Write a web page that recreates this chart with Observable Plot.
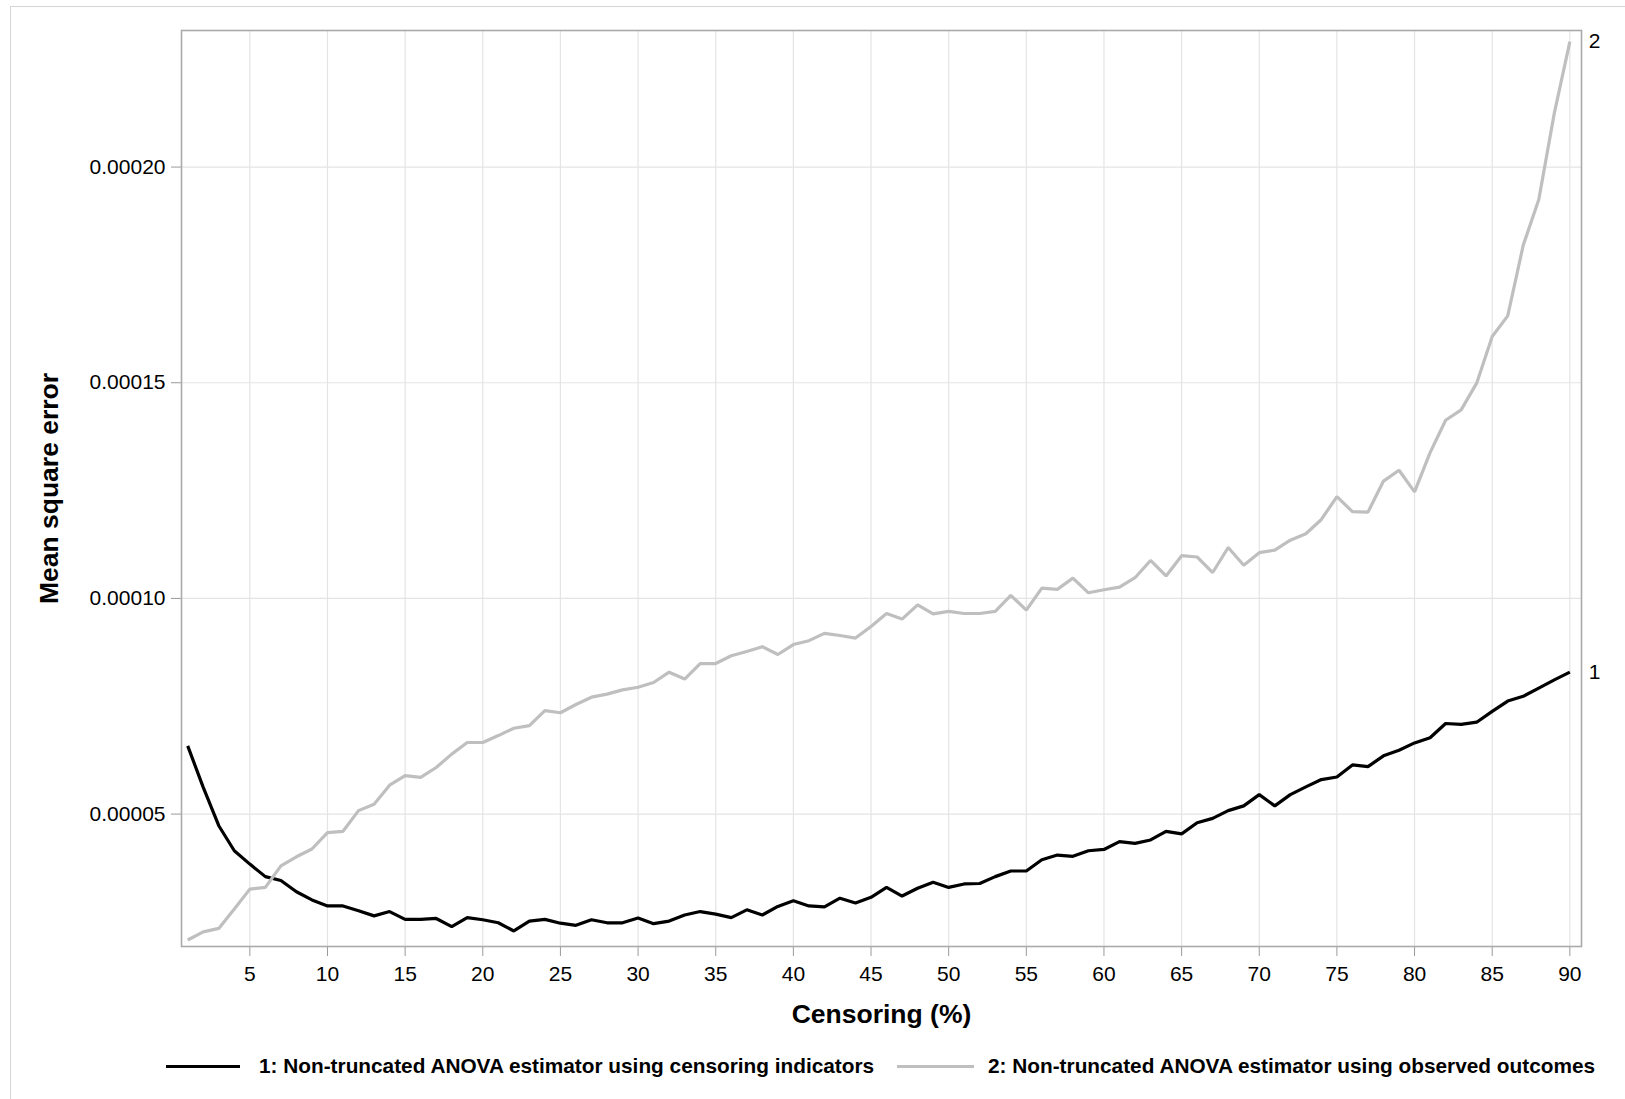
<!DOCTYPE html>
<html>
<head>
<meta charset="utf-8">
<script src="https://cdn.jsdelivr.net/npm/d3@7"></script>
<script src="https://cdn.jsdelivr.net/npm/@observablehq/plot@0.6"></script>
<style>
  html, body { margin: 0; padding: 0; background: #fff; overflow: hidden; }
  body { width: 1625px; height: 1099px; position: relative; font-family: "Liberation Sans", Arial, sans-serif; }
  #border { position: absolute; left: 10px; top: 6px; width: 1700px; height: 1200px; border: 1px solid #d4d4d4; pointer-events: none; }
  #chart { position: absolute; left: 0; top: 0; }
  #chart svg { display: block; }
  #legend { position: absolute; left: 0; top: 1035px; width: 1625px; height: 64px; font-size: 20.8px; font-weight: bold; color: #000; }
  .sw { position: absolute; top: 30px; height: 3px; }
  .lt { position: absolute; top: 19px; white-space: nowrap; line-height: 24px; }
</style>
</head>
<body>
<div id="chart"></div>
<div id="legend"></div>
<div id="border"></div>
<script>
// Censoring percentage (x categories)
const censoring = d3.range(1, 91);

// Series 1: Non-truncated ANOVA estimator using censoring indicators
const mse1 = [
  6.58e-5, 5.62e-5, 4.73e-5, 4.15e-5, 3.84e-5, 3.55e-5, 3.46e-5, 3.20e-5, 3.01e-5, 2.87e-5,
  2.87e-5, 2.76e-5, 2.64e-5, 2.74e-5, 2.56e-5, 2.56e-5, 2.58e-5, 2.39e-5, 2.60e-5, 2.55e-5,
  2.48e-5, 2.29e-5, 2.52e-5, 2.56e-5, 2.47e-5, 2.42e-5, 2.55e-5, 2.48e-5, 2.48e-5, 2.59e-5,
  2.46e-5, 2.52e-5, 2.66e-5, 2.74e-5, 2.68e-5, 2.60e-5, 2.78e-5, 2.66e-5, 2.86e-5, 2.99e-5,
  2.87e-5, 2.85e-5, 3.05e-5, 2.94e-5, 3.07e-5, 3.30e-5, 3.10e-5, 3.28e-5, 3.42e-5, 3.30e-5,
  3.38e-5, 3.39e-5, 3.55e-5, 3.68e-5, 3.68e-5, 3.94e-5, 4.05e-5, 4.02e-5, 4.15e-5, 4.18e-5,
  4.36e-5, 4.32e-5, 4.40e-5, 4.60e-5, 4.54e-5, 4.80e-5, 4.90e-5, 5.08e-5, 5.19e-5, 5.45e-5,
  5.19e-5, 5.45e-5, 5.63e-5, 5.80e-5, 5.86e-5, 6.14e-5, 6.10e-5, 6.35e-5, 6.48e-5, 6.65e-5,
  6.77e-5, 7.10e-5, 7.08e-5, 7.13e-5, 7.38e-5, 7.62e-5, 7.73e-5, 7.92e-5, 8.11e-5, 8.29e-5
];

// Series 2: Non-truncated ANOVA estimator using observed outcomes
const mse2 = [
  2.08e-5, 2.27e-5, 2.35e-5, 2.80e-5, 3.26e-5, 3.30e-5, 3.80e-5, 4.01e-5, 4.19e-5, 4.57e-5,
  4.60e-5, 5.08e-5, 5.23e-5, 5.67e-5, 5.89e-5, 5.85e-5, 6.08e-5, 6.39e-5, 6.66e-5, 6.66e-5,
  6.82e-5, 6.99e-5, 7.05e-5, 7.40e-5, 7.35e-5, 7.54e-5, 7.71e-5, 7.78e-5, 7.88e-5, 7.94e-5,
  8.05e-5, 8.29e-5, 8.13e-5, 8.49e-5, 8.49e-5, 8.67e-5, 8.77e-5, 8.88e-5, 8.70e-5, 8.93e-5,
  9.02e-5, 9.19e-5, 9.14e-5, 9.08e-5, 9.35e-5, 9.65e-5, 9.52e-5, 9.85e-5, 9.64e-5, 9.70e-5,
  9.65e-5, 9.65e-5, 9.70e-5, 10.07e-5, 9.73e-5, 10.24e-5, 10.21e-5, 10.47e-5, 10.13e-5, 10.20e-5,
  10.26e-5, 10.48e-5, 10.88e-5, 10.52e-5, 10.99e-5, 10.96e-5, 10.60e-5, 11.18e-5, 10.77e-5, 11.06e-5,
  11.12e-5, 11.35e-5, 11.50e-5, 11.83e-5, 12.36e-5, 12.01e-5, 12.00e-5, 12.72e-5, 12.97e-5, 12.47e-5,
  13.38e-5, 14.13e-5, 14.37e-5, 14.99e-5, 16.07e-5, 16.55e-5, 18.19e-5, 19.25e-5, 21.25e-5, 22.91e-5
];

const seriesNames = ["1", "2"];
const seriesLabels = [
  "1: Non-truncated ANOVA estimator using censoring indicators",
  "2: Non-truncated ANOVA estimator using observed outcomes"
];
const seriesColors = ["#000000", "#bfbfbf"];

const xTicks = d3.range(5, 91, 5);
const yTicks = [0.00005, 0.00010, 0.00015, 0.00020];
const xLabel = "Censoring (%)";
const yLabel = "Mean square error";

const rows = [];
censoring.forEach((c, i) => {
  rows.push({series: "1", x: c, y: mse1[i]});
  rows.push({series: "2", x: c, y: mse2[i]});
});
const ends = seriesNames.map((s, k) => ({series: s, x: censoring[censoring.length - 1], y: (k === 0 ? mse1 : mse2)[censoring.length - 1]}));

const font = "'Liberation Sans', Arial, sans-serif";

const chart = Plot.plot({
  width: 1625,
  height: 1035,
  marginLeft: 181,
  marginRight: 44,
  marginTop: 30,
  marginBottom: 89,
  style: {fontFamily: font, fontSize: "21px", color: "#000", background: "#fff"},
  x: {domain: [0.6, 90.75], ticks: xTicks},
  y: {domain: [0.0000193, 0.00023166], ticks: yTicks},
  color: {domain: seriesNames, range: seriesColors},
  marks: [
    Plot.gridX(xTicks, {stroke: "#e4e4e4", strokeOpacity: 1, strokeWidth: 1.2}),
    Plot.gridY(yTicks, {stroke: "#e4e4e4", strokeOpacity: 1, strokeWidth: 1.2}),
    Plot.axisX(xTicks, {tickSize: 10, tickPadding: 10, stroke: "#9a9a9a", label: null, fontSize: 21, fill: "#000"}),
    Plot.axisY(yTicks, {tickSize: 10, tickPadding: 6, stroke: "#9a9a9a", label: null, tickFormat: d3.format(".5f"), fontSize: 21, fill: "#000"}),
    Plot.line(rows, {x: "x", y: "y", z: "series", stroke: "series", strokeWidth: 3.2, strokeLinejoin: "miter", strokeLinecap: "butt"}),
    Plot.frame({stroke: "#aaaaaa", strokeWidth: 1.6}),
    Plot.text(ends, {x: "x", y: "y", text: "series", dx: 19, textAnchor: "start", fontSize: 21, fill: "#000"}),
    Plot.text([xLabel], {frameAnchor: "bottom", textAnchor: "middle", dy: 76, fontSize: 26.5, fontWeight: "bold", fill: "#000"}),
    Plot.text([yLabel], {frameAnchor: "left", textAnchor: "middle", dx: -132, rotate: -90, fontSize: 26.5, fontWeight: "bold", fill: "#000"})
  ]
});
document.getElementById("chart").appendChild(chart);

// Legend below the chart
const legend = document.getElementById("legend");
const swatchPos = [[166, 240, 259], [897, 974, 988]];
seriesLabels.forEach((lab, k) => {
  const sw = document.createElement("div");
  sw.className = "sw";
  sw.style.left = swatchPos[k][0] + "px";
  sw.style.width = (swatchPos[k][1] - swatchPos[k][0]) + "px";
  sw.style.background = seriesColors[k];
  legend.appendChild(sw);
  const t = document.createElement("div");
  t.className = "lt";
  t.style.left = swatchPos[k][2] + "px";
  t.textContent = lab;
  legend.appendChild(t);
});
</script>
</body>
</html>
